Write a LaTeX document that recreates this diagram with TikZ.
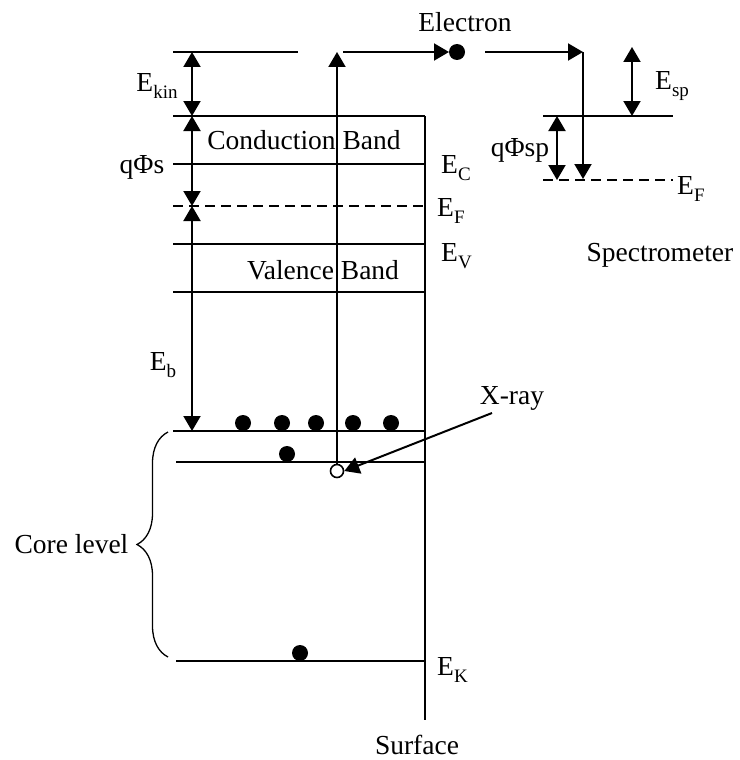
\documentclass[tikz,border=0pt]{standalone}
\usepackage{fontspec}
\setmainfont{Liberation Serif}
\usetikzlibrary{arrows.meta,decorations.pathreplacing}

\newcommand{\lowsub}[1]{\raisebox{-7pt}{\fontsize{19}{20}\selectfont #1}}

\begin{document}
\begin{tikzpicture}[
    x=1pt, y=-1pt,
    >={Triangle[length=15pt,width=17pt]},
    level/.style={line width=2pt},
    fermi/.style={line width=2pt, dash pattern=on 10pt off 6pt},
    particle/.style={fill=black},
    hole/.style={draw=black, fill=white, line width=1.6pt},
    lbl/.style={inner sep=0pt, font=\fontsize{27.5}{33}\selectfont}
]

    \useasboundingbox (0,0) rectangle (739,760);

    \coordinate (vac) at (173,52);
    \coordinate (vacend) at (298,52);
    \coordinate (cbtop) at (173,116);
    \coordinate (ec) at (173,164);
    \coordinate (ef) at (173,206);
    \coordinate (ev) at (173,244);
    \coordinate (vbbot) at (173,292);
    \coordinate (core1) at (173,431);
    \coordinate (core2) at (176,462);
    \coordinate (ek) at (176,661);
    \coordinate (surftop) at (425,116);
    \coordinate (surfbot) at (425,720);

    \draw[level] (vac) -- (vacend);
    \draw[level] (cbtop) -- (cbtop -| surftop);
    \draw[level] (ec) -- (ec -| surftop);
    \draw[fermi] (ef) -- (ef -| surftop);
    \draw[level] (ev) -- (ev -| surftop);
    \draw[level] (vbbot) -- (vbbot -| surftop);
    \draw[level] (core1) -- (core1 -| surftop);
    \draw[level] (core2) -- (core2 -| surftop);
    \draw[level] (ek) -- (ek -| surftop);
    \draw[level] (surftop) -- (surfbot);

    \coordinate (ax) at (192,0);

    \draw[
        <->,
        level
    ] (ax |- vac) -- (ax |- cbtop);

    \draw[
        <->,
        level
    ] (ax |- cbtop) -- (ax |- ef);

    \draw[
        <->,
        level
    ] (ax |- ef) -- (ax |- core1);

    \node[lbl] (ekin) at (157,86) {E\lowsub{kin}};
    \node[lbl] (qphis) at (142,167) {qΦs};
    \node[lbl] (eb) at (163,365) {E\lowsub{b}};

    \node[lbl] (cb) at (304,140) {Conduction Band};
    \node[lbl] (vb) at (323,270) {Valence Band};

    \node[lbl, anchor=west] (eclbl) at (441,168) {E\lowsub{C}};
    \node[lbl, anchor=west] (eflbl) at (437,211) {E\lowsub{F}};
    \node[lbl, anchor=west] (evlbl) at (441,256) {E\lowsub{V}};
    \node[lbl, anchor=west] (eklbl) at (437,670) {E\lowsub{K}};
    \node[lbl] (surface) at (417,745) {Surface};

    \foreach \px in {243,282,316,353,391}
        \fill[particle] (\px,423) circle (8pt);
    \fill[particle] (287,454) circle (8pt);
    \fill[particle] (300,653) circle (8pt);

    \node[hole, circle, minimum size=13pt, inner sep=0pt] (hole) at (337,471) {};

    \draw[
        ->,
        level
    ] (hole.north) -- (337,52);

    \node[lbl] (xray) at (512,398) {X-ray};
    \coordinate (xstart) at (492,413);
    \draw[
        ->,
        level
    ] (xstart) -- (hole.east);

    \draw[
        decorate,
        decoration={brace, amplitude=31pt},
        line width=1.3pt
    ] (168,657) -- (168,432)
    node[midway, left=39pt, lbl] (core) {Core level};

    \node[lbl] (electron) at (465,22) {Electron};
    \fill[particle] (457,52) circle (8pt);
    \coordinate (e1) at (343,52);
    \coordinate (e2) at (449,52);
    \draw[
        ->,
        level
    ] (e1) -- (e2);

    \coordinate (s1) at (485,52);
    \coordinate (s2) at (583,52);
    \coordinate (s3) at (583,179);
    \draw[
        ->,
        level
    ] (s1) -- (s2);
    \draw[
        ->,
        level
    ] (s2) -- (s3);

    \coordinate (sptop) at (543,116);
    \coordinate (spef) at (543,180);
    \draw[level] (sptop) -- (673,116);
    \draw[fermi] (spef) -- (673,180);

    \draw[
        <->,
        level
    ] (632,47) -- (632,116);

    \draw[
        <->,
        level
    ] (557,116) -- (557,180);

    \node[lbl, anchor=west] (esp) at (655,86) {E\lowsub{sp}};
    \node[lbl] (qphisp) at (520,150) {qΦsp};
    \node[lbl, anchor=west] (efsp) at (677,189) {E\lowsub{F}};
    \node[lbl] (spectro) at (660,255) {Spectrometer};

\end{tikzpicture}
\end{document}
